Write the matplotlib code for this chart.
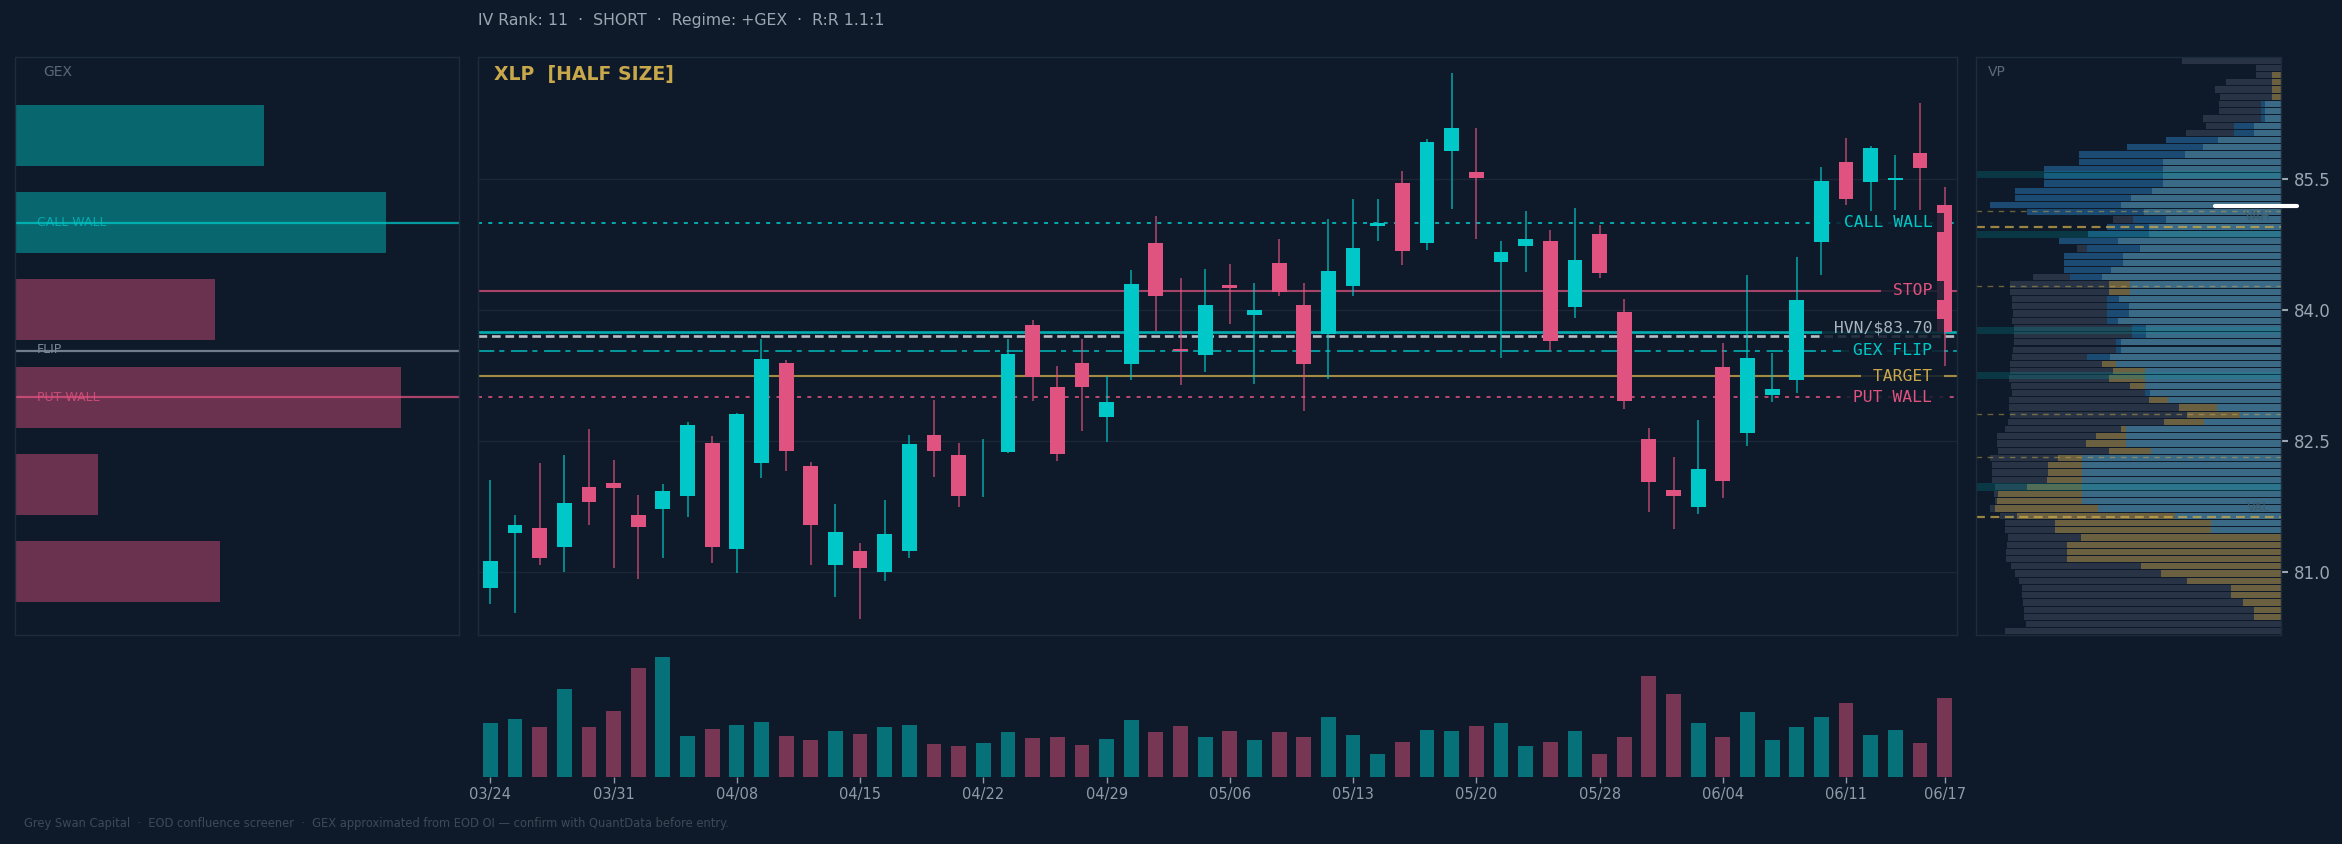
import matplotlib
matplotlib.use("Agg")
import matplotlib.pyplot as plt
import matplotlib.transforms as mtransforms
import numpy as np

# colours
BG = "#0e1a29"
UP = "#00c8c8"
DN = "#e05280"
GOLD = "#c9a84c"
GRID = "#1a2737"
SPINE = "#1d2b3b"
TXT = "#9aa6b2"
DIM = "#5a6878"

# ---- price data (daily) ----
dates = ["03/24", "03/25", "03/26", "03/27", "03/28", "03/31", "04/01", "04/02", "04/03", "04/07",
         "04/08", "04/09", "04/10", "04/11", "04/14", "04/15", "04/16", "04/17", "04/18", "04/21",
         "04/22", "04/23", "04/24", "04/25", "04/28", "04/29", "04/30", "05/01", "05/02", "05/05",
         "05/06", "05/07", "05/08", "05/09", "05/12", "05/13", "05/14", "05/15", "05/16", "05/19",
         "05/20", "05/21", "05/22", "05/23", "05/27", "05/28", "05/29", "05/30", "06/02", "06/03",
         "06/04", "06/05", "06/06", "06/09", "06/10", "06/11", "06/12", "06/13", "06/16", "06/17"]
opens = [80.81, 81.44, 81.50, 81.28, 81.97, 82.01, 81.65, 81.72, 81.87, 82.47,
         81.26, 82.24, 83.39, 82.21, 81.08, 81.23, 81.00, 81.23, 82.56, 82.34,
         82.20, 82.37, 83.83, 83.11, 83.39, 82.77, 83.38, 84.77, 83.55, 83.48,
         84.28, 83.94, 84.54, 84.06, 83.72, 84.27, 84.96, 85.45, 84.76, 85.82,
         85.58, 84.55, 84.73, 84.79, 84.03, 84.87, 83.98, 82.52, 81.94, 81.74,
         83.35, 82.59, 83.02, 83.20, 84.78, 85.69, 85.47, 85.49, 85.80, 85.20]
highs = [82.05, 81.65, 82.24, 82.33, 82.63, 82.28, 81.88, 82.00, 82.71, 82.55,
         82.82, 83.66, 83.42, 82.25, 81.77, 81.33, 81.82, 82.56, 82.97, 82.47,
         82.52, 83.66, 83.88, 83.36, 83.66, 83.24, 84.46, 85.08, 84.37, 84.47,
         84.53, 84.31, 84.81, 84.31, 85.04, 85.27, 85.27, 85.59, 85.96, 86.71,
         86.08, 84.79, 85.13, 84.91, 85.17, 84.97, 84.12, 82.65, 82.31, 82.74,
         83.62, 84.40, 83.50, 84.60, 85.64, 85.97, 85.88, 85.77, 86.37, 85.41]
lows = [80.63, 80.52, 81.07, 81.00, 81.53, 81.04, 80.92, 81.16, 81.62, 81.10,
        80.98, 82.07, 82.15, 81.07, 80.71, 80.46, 80.89, 81.16, 82.08, 81.74,
        81.85, 82.36, 82.95, 82.27, 82.61, 82.48, 83.19, 83.76, 83.14, 83.29,
        83.84, 83.15, 84.16, 82.84, 83.21, 84.16, 84.79, 84.51, 84.68, 85.16,
        84.81, 83.45, 84.43, 83.53, 83.91, 84.37, 82.86, 81.68, 81.49, 81.66,
        81.84, 82.44, 82.94, 83.05, 84.40, 85.20, 85.13, 85.14, 85.14, 83.36]
closes = [81.12, 81.53, 81.16, 81.79, 81.80, 81.96, 81.51, 81.92, 82.68, 81.28,
          82.81, 83.44, 82.38, 81.53, 81.45, 81.04, 81.43, 82.46, 82.38, 81.86,
          82.20, 83.49, 83.23, 82.35, 83.12, 82.94, 84.29, 84.16, 83.53, 84.05,
          84.25, 84.00, 84.20, 83.38, 84.45, 84.71, 84.99, 84.67, 85.92, 86.08,
          85.51, 84.66, 84.81, 83.64, 84.57, 84.42, 82.95, 82.03, 81.86, 82.17,
          82.04, 83.45, 83.09, 84.11, 85.48, 85.27, 85.86, 85.51, 85.62, 83.75]
volume_m = [5.4, 5.8, 5.0, 8.8, 5.0, 6.6, 10.9, 12.0, 4.1, 4.8,
            5.2, 5.5, 4.1, 3.7, 4.6, 4.3, 5.0, 5.2, 3.3, 3.1,
            3.4, 4.5, 3.9, 4.0, 3.2, 3.8, 5.7, 4.5, 5.1, 4.0,
            4.6, 3.7, 4.5, 4.0, 6.0, 4.2, 2.3, 3.5, 4.7, 4.6,
            5.1, 5.4, 3.1, 3.5, 4.6, 2.3, 4.0, 10.1, 8.3, 5.4,
            4.0, 6.5, 3.7, 5.0, 6.0, 7.4, 4.2, 4.7, 3.4, 7.9]

# ---- levels ----
call_wall = 85.00
put_wall = 83.00
gex_flip = 83.53
stop = 84.22
target = 83.24
hvn = 83.70
last_px = 83.75

# ---- GEX by strike ($M, sign = call/put dominance) ----
gex_strikes = [86, 85, 84, 83, 82, 81]
gex_values = [2.50, 3.73, -2.01, -3.88, -0.83, -2.06]

# ---- volume profile, rows listed top -> bottom (share of panel width) ----
vp_total = [32.6, 8.3, 8.3, 18.1, 21.7, 20.1, 20.4, 20.4, 25.7, 24.7,
            31.3, 37.8, 50.6, 66.3, 66.3, 77.8, 77.8, 77.8, 87.3, 87.3,
            95.5, 83.4, 55.2, 57.2, 63.4, 72.9, 67.0, 71.3, 71.3, 71.3,
            81.4, 89.0, 89.0, 88.3, 88.3, 88.0, 88.3, 87.7, 87.7, 87.7,
            88.0, 88.3, 89.0, 89.0, 89.3, 88.6, 88.3, 89.3, 89.3, 89.0,
            89.6, 90.6, 93.2, 93.2, 92.9, 95.5, 94.9, 94.9, 94.9, 93.9,
            94.2, 93.9, 95.5, 92.2, 90.6, 90.6, 89.6, 89.9, 90.3, 90.3,
            88.6, 87.3, 86.0, 85.0, 85.0, 84.7, 84.4, 84.4, 83.7, 90.6]
vp_mid = [0, 0, 3.1, 3.1, 3.1, 3.1, 6.7, 6.7, 6.7, 15.5,
          15.5, 37.8, 50.6, 66.3, 66.3, 77.8, 77.8, 77.8, 87.3, 87.3,
          95.5, 83.4, 48.6, 57.2, 63.4, 72.9, 63.7, 71.3, 71.3, 71.3,
          69.3, 56.5, 56.5, 57.2, 57.2, 57.2, 57.2, 49.0, 49.0, 54.2,
          54.2, 63.7, 58.8, 55.2, 56.5, 49.6, 44.7, 43.4, 33.6, 30.9,
          38.5, 52.6, 60.8, 64.0, 56.5, 73.2, 76.5, 76.5, 76.8, 83.4,
          92.9, 93.2, 93.9, 86.7, 74.2, 74.2, 65.7, 70.3, 70.3, 70.3,
          46.0, 39.5, 30.9, 16.5, 16.5, 12.6, 9.0, 9.0, 0, 0]
vp_side = ("ggggggbbbbbbbbbbbbbbbbbbbbbbbbbggbbbbbbbbbggggbggggggggg"
           "gggggggggggggggggggggggg")
vp_recent = [0, 0, 0, 0, 0, 0, 5.4, 5.4, 5.4, 9.0,
             9.0, 20.8, 25.7, 31.6, 38.8, 38.8, 38.8, 38.8, 42.4, 49.3,
             52.6, 45.0, 37.8, 43.4, 43.4, 53.6, 46.3, 51.9, 51.9, 55.8,
             58.8, 49.6, 49.6, 53.2, 49.9, 49.9, 53.6, 44.4, 44.4, 52.6,
             52.6, 56.2, 54.2, 44.6, 44.6, 44.6, 43.1, 37.2, 21.1, 13.6,
             25.4, 50.9, 50.9, 50.9, 42.7, 65.4, 65.4, 65.4, 65.4, 65.4,
             65.4, 65.4, 60.1, 34.9, 23.1, 23.1, 0, 0, 0, 0,
             0, 0, 0, 0, 0, 0, 0, 0, 0, 0]
vp_hvn = [85.55, 84.86, 83.76, 83.25, 81.97]
vah, val = 84.95, 81.62
vp_minor = [85.13, 84.27, 82.81, 82.31]
vp_marker = 85.19

o = np.array(opens); h = np.array(highs); l = np.array(lows); c = np.array(closes)
x = np.arange(len(dates))
up = c >= o
col = np.where(up, UP, DN)

lo, hi = l.min(), h.max()
pad = 0.03 * (hi - lo)
ylo, yhi = lo - pad, hi + pad

W, H = 2342, 844
fig = plt.figure(figsize=(W / 100, H / 100), dpi=100, facecolor=BG)


def box(x0, y0, x1, y1):
    return [x0 / W, 1 - y1 / H, (x1 - x0) / W, (y1 - y0) / H]


ax_gex = fig.add_axes(box(15, 57, 459, 635))
ax = fig.add_axes(box(478, 57, 1957, 635), sharey=ax_gex)
ax_vp = fig.add_axes(box(1976, 57, 2281, 635), sharey=ax)
ax_vol = fig.add_axes(box(478, 645, 1957, 777), sharex=ax)

for a in (ax_gex, ax, ax_vp, ax_vol):
    a.set_facecolor(BG)
    for s in a.spines.values():
        s.set_color(SPINE)
        s.set_linewidth(1)
for s in ax_vol.spines.values():
    s.set_visible(False)

# ---- candles ----
ax.vlines(x, l, h, colors=col, lw=1.1, alpha=0.8, zorder=3)
ax.bar(x, np.abs(c - o), bottom=np.minimum(o, c), width=0.6, color=col, zorder=4)
ax.set_xlim(-0.5, len(x) - 0.5)
ax.set_ylim(ylo, yhi)
ax.set_yticks([81.0, 82.5, 84.0, 85.5])
ax.grid(axis="y", color=GRID, lw=1)
ax.grid(axis="x", visible=False)
ax.tick_params(left=False, labelleft=False, bottom=False, labelbottom=False)

trans = mtransforms.blended_transform_factory(ax.transAxes, ax.transData)
ax.axhline(call_wall, color=UP, lw=1.3, ls=(0, (2.2, 3.5)), alpha=0.9, zorder=2)
ax.axhline(stop, color=DN, lw=1.5, alpha=0.75, zorder=2)
ax.axhline(last_px, color=UP, lw=1.9, alpha=0.85, zorder=2)
ax.axhline(hvn, color="#d8dce0", lw=1.9, ls=(0, (3.3, 1.8)), alpha=0.85, zorder=2)
ax.axhline(gex_flip, color=UP, lw=1.3, ls=(0, (9, 2.8, 2.8, 3.7)), alpha=0.8, zorder=2)
ax.axhline(target, color=GOLD, lw=1.5, alpha=0.8, zorder=2)
ax.axhline(put_wall, color=DN, lw=1.3, ls=(0, (2.2, 3.5)), alpha=0.9, zorder=2)

labels = [(" CALL WALL ", call_wall, UP), (" STOP ", stop, DN),
          (" HVN/$83.70 ", hvn + 0.09, "#a9b4bf"), (" GEX FLIP ", gex_flip, UP),
          (" TARGET ", target, GOLD), (" PUT WALL ", put_wall, DN)]
for txt, yv, cc in labels:
    ax.text(0.99, yv, txt, transform=trans, ha="right", va="center", color=cc,
            family="DejaVu Sans Mono", fontsize=11.8, zorder=6,
            bbox=dict(boxstyle="square,pad=0.12", fc=BG, ec="none", alpha=0.85))

ax.text(0.0105, 0.97, "XLP  [HALF SIZE]", transform=ax.transAxes, ha="left", va="center",
        color=GOLD, fontsize=13.6, fontweight="bold")

# ---- volume ----
ax_vol.bar(x, volume_m, width=0.6, color=col, alpha=0.5)
ax_vol.set_ylim(0, max(volume_m) * 1.1)
ticks = list(range(0, len(x), 5)) + [len(x) - 1]
ax_vol.set_xticks(ticks)
ax_vol.set_xticklabels([dates[i] for i in ticks])
ax_vol.tick_params(axis="x", colors="#8e9aa7", labelsize=10.5, length=4, width=1, pad=3)
ax_vol.tick_params(axis="y", left=False, labelleft=False)

# ---- GEX panel ----
gv = np.array(gex_values)
ax_gex.barh(gex_strikes, np.abs(gv), height=0.7, color=np.where(gv > 0, UP, DN), alpha=0.44)
ax_gex.set_xlim(0, np.abs(gv).max() * 1.15)
ax_gex.tick_params(left=False, labelleft=False, bottom=False, labelbottom=False)
ax_gex.axhline(call_wall, color=UP, lw=1.6, alpha=0.75)
ax_gex.axhline(gex_flip, color="#6f7d8c", lw=1.6)
ax_gex.axhline(put_wall, color=DN, lw=1.6, alpha=0.75)
gtrans = mtransforms.blended_transform_factory(ax_gex.transAxes, ax_gex.transData)
ax_gex.text(0.05, call_wall, "CALL WALL", transform=gtrans, color=UP, alpha=0.7, fontsize=9, va="center")
ax_gex.text(0.05, gex_flip + 0.02, "FLIP", transform=gtrans, color="#7a8896", fontsize=9, va="center")
ax_gex.text(0.05, put_wall, "PUT WALL", transform=gtrans, color=DN, alpha=0.8, fontsize=9, va="center")
ax_gex.text(0.063, 0.974, "GEX", transform=ax_gex.transAxes, color=DIM, fontsize=10, va="center")

# ---- volume profile ----
nb = len(vp_total)
binh = (yhi - ylo) / nb
centers = yhi - (np.arange(nb) + 0.5) * binh
mid_col = ["#6b6040" if s == "g" else "#1b4a72" for s in vp_side]
ax_vp.barh(centers, vp_total, height=binh * 0.86, color="#283445", lw=0)
ax_vp.barh(centers, vp_mid, height=binh * 0.86, color=mid_col, lw=0)
ax_vp.barh(centers, vp_recent, height=binh * 0.86, color="#3a6a86", lw=0)
for lv in vp_hvn:
    ax_vp.axhspan(lv - binh / 2, lv + binh / 2, color="#00a0a8", alpha=0.22, lw=0)
for lv in vp_minor:
    ax_vp.axhline(lv, color=GOLD, lw=1.0, ls=(0, (4, 4)), alpha=0.5)
ax_vp.axhline(vah, color=GOLD, lw=1.6, ls=(0, (4, 2.5)), alpha=0.75)
ax_vp.axhline(val, color=GOLD, lw=1.6, ls=(0, (4, 2.5)), alpha=0.75)
vtrans = mtransforms.blended_transform_factory(ax_vp.transAxes, ax_vp.transData)
ax_vp.text(0.925, vah + 0.04, "VAH", transform=vtrans, color="#3e5a6b", fontsize=9, ha="center", va="bottom")
ax_vp.text(0.925, val + 0.04, "VAL", transform=vtrans, color="#3e5a6b", fontsize=9, ha="center", va="bottom")
ax_vp.plot([0.783, 1.051], [vp_marker, vp_marker], transform=vtrans, color="white",
           lw=3, solid_capstyle="round", clip_on=False, zorder=5)
ax_vp.set_xlim(100, 0)
ax_vp.text(0.04, 0.974, "VP", transform=ax_vp.transAxes, color=DIM, fontsize=10, va="center")
ax_vp.tick_params(axis="x", bottom=False, labelbottom=False)
ax_vp.tick_params(axis="y", left=False, labelleft=False, right=True, labelright=True,
                  colors=TXT, labelsize=12, length=5, width=1.5, pad=4)

# ---- header / footer ----
fig.text(478 / W, 1 - 21 / H, "IV Rank: 11  \u00b7  SHORT  \u00b7  Regime: +GEX  \u00b7  R:R 1.1:1",
         color=TXT, fontsize=11.3, va="center")
fig.text(24 / W, 1 - 823 / H,
         "Grey Swan Capital  \u00b7  EOD confluence screener  \u00b7  GEX approximated from EOD OI "
         "\u2014 confirm with QuantData before entry.", color="#3c4a58", fontsize=8.3, va="center")

fig.savefig("out.png", dpi=100, facecolor=BG)
